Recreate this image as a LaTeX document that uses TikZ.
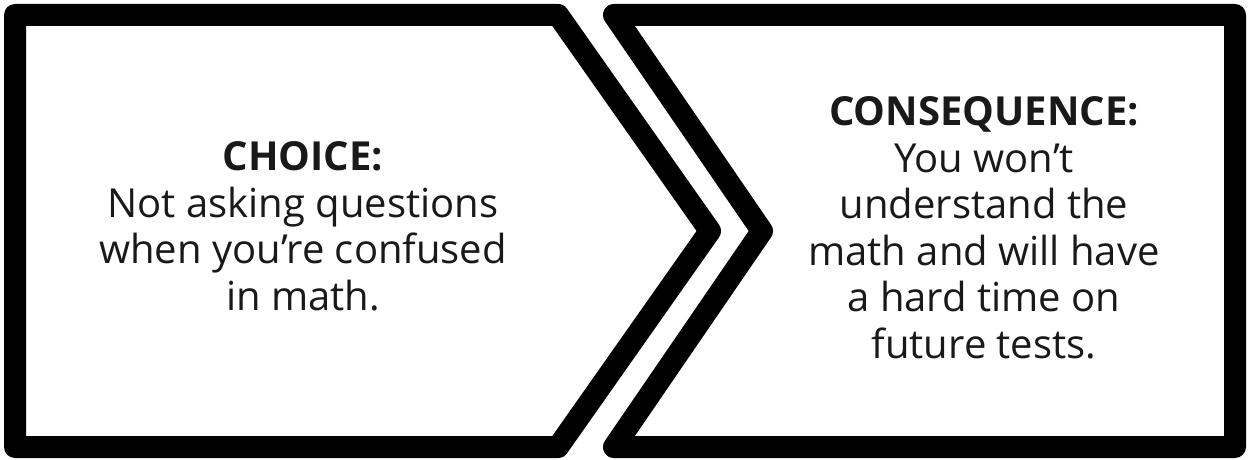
\documentclass[tikz,border=0pt]{standalone}
\usepackage{fontspec}
\setmainfont{Open Sans}
\begin{document}
\begin{tikzpicture}[x=1pt,y=-1pt,
  shapeline/.style={draw=black,line width=22pt,line join=round,fill=white},
  blocktext/.style={align=center,text=black!90,inner sep=0pt,
    font=\fontsize{40}{46.5}\selectfont}]
\useasboundingbox (0,0) rectangle (1248,460);
% left arrow shape
\draw[shapeline] (15,15) -- (558,15) -- (710,231) -- (558,447) -- (15,447) -- cycle;
% right notched shape
\draw[shapeline] (614,15) -- (1235,15) -- (1235,447) -- (614,447) -- (762,231) -- cycle;
\node[blocktext,anchor=base] (choice) at (303,310)
  {\textbf{CHOICE:}\\Not asking questions\\when you’re confused\\in math.};
\node[blocktext,anchor=base] (conseq) at (984,358)
  {\textbf{CONSEQUENCE:}\\You won’t\\understand the\\math and will have\\a hard time on\\future tests.};
\end{tikzpicture}
\end{document}
